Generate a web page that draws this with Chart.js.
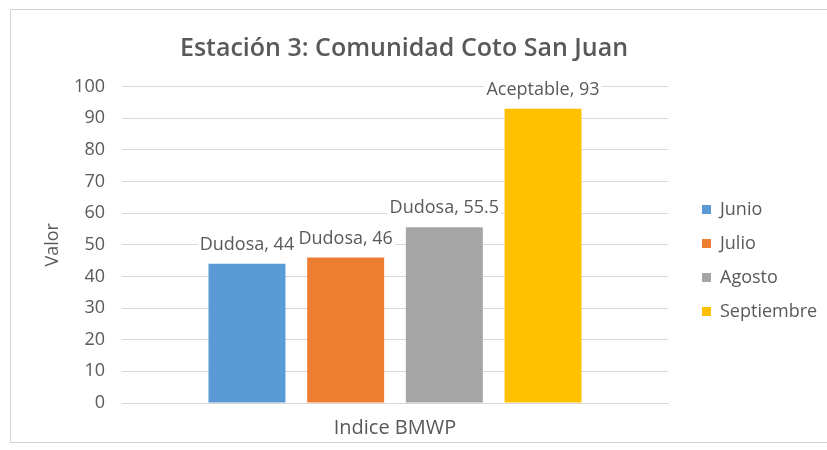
<!DOCTYPE html>
<html>
<head>
<meta charset="utf-8">
<title>Estación 3</title>
<script src="https://cdn.jsdelivr.net/npm/chart.js@4.4.1/dist/chart.umd.min.js"></script>
<style>
  body { margin: 0; background: #fff; overflow: hidden; }
  #frame { position: absolute; left: 10px; top: 9px; width: 840px; height: 434px; border: 1px solid #d4d4d4; box-sizing: border-box; }
  #wrap { position: absolute; left: 0; top: 0; width: 827px; height: 450px; }
</style>
</head>
<body>
<div id="frame"></div>
<div id="wrap"><canvas id="myChart"></canvas></div>
<script>
// Chart data
const categories = ['Indice BMWP'];
const months = ['Junio', 'Julio', 'Agosto', 'Septiembre'];
const values = [44, 46, 55.5, 93];
const ratings = ['Dudosa', 'Dudosa', 'Dudosa', 'Aceptable'];
const colors = ['#5B9BD5', '#ED7D31', '#A5A5A5', '#FFC000'];
const yTicks = [0, 10, 20, 30, 40, 50, 60, 70, 80, 90, 100];

const textColor = '#595959';
const gridColor = '#d9d9d9';
const font = 'Open Sans';

// Labels above each bar: "rating, value" on a white patch
const barLabels = {
    id: 'barLabels',
    afterDatasetsDraw(chart) {
        const ctx = chart.ctx;
        ctx.save();
        ctx.font = '18px "' + font + '"';
        ctx.textAlign = 'center';
        ctx.textBaseline = 'middle';
        chart.data.datasets.forEach((ds, i) => {
            const bar = chart.getDatasetMeta(i).data[0];
            const text = ratings[i] + ', ' + ds.data[0];
            const w = ctx.measureText(text).width;
            const y = bar.y - 19;
            ctx.fillStyle = '#fff';
            ctx.fillRect(bar.x - w / 2 - 2, y - 11, w + 4, 22);
            ctx.fillStyle = textColor;
            ctx.fillText(text, bar.x, y);
        });
        ctx.restore();
    }
};

const datasets = months.map((m, i) => ({
    label: m,
    data: [values[i]],
    backgroundColor: colors[i],
    borderWidth: 0
}));

const ctx = document.getElementById('myChart').getContext('2d');
const myChart = new Chart(ctx, {
    type: 'bar',
    data: { labels: categories, datasets },
    options: {
        responsive: true,
        maintainAspectRatio: false,
        animation: false,
        categoryPercentage: 0.723,
        barPercentage: 0.78,
        layout: { padding: { left: -19, right: 0, top: 0, bottom: 7 } },
        plugins: {
            title: {
                display: true,
                text: 'Estación 3: Comunidad Coto San Juan',
                color: textColor,
                font: { family: font, size: 25, weight: '600' },
                padding: { top: 34, bottom: 22.5 }
            },
            legend: {
                position: 'right',
                title: {
                    display: true,
                    text: ' ',
                    font: { size: 10 },
                    padding: 33
                },
                labels: {
                    color: textColor,
                    font: { family: font, size: 18 },
                    boxWidth: 9,
                    boxHeight: 9,
                    padding: 16
                }
            },
            tooltip: { enabled: false }
        },
        scales: {
            x: {
                grid: { display: false },
                border: { color: gridColor },
                ticks: { color: textColor, font: { family: font, size: 20 }, padding: 5 },
                afterFit(scale) { scale.height = 40; }
            },
            y: {
                min: 0,
                max: 100,
                afterBuildTicks(scale) { scale.ticks = yTicks.map(v => ({ value: v })); },
                grid: { color: gridColor, drawTicks: false },
                border: { display: false },
                ticks: { color: textColor, font: { family: font, size: 18 }, padding: 17 },
                title: {
                    display: true,
                    text: 'Valor',
                    color: textColor,
                    font: { family: font, size: 18 },
                    padding: { top: 61, bottom: 0 }
                },
                afterFit(scale) { scale.width = 141; }
            },
            spacer: {
                position: 'right',
                grid: { display: false },
                border: { display: false },
                ticks: { display: false },
                afterFit(scale) { scale.width = 18; }
            }
        }
    },
    plugins: [barLabels]
});
</script>
</body>
</html>
